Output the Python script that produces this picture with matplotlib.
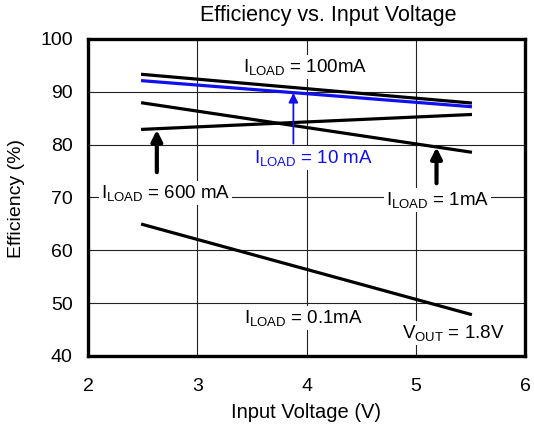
import matplotlib
matplotlib.use("Agg")
import matplotlib.pyplot as plt

plt.rcParams['font.family'] = ['Liberation Sans', 'DejaVu Sans']
plt.rcParams['mathtext.fontset'] = 'custom'
plt.rcParams['mathtext.rm'] = 'Liberation Sans'
plt.rcParams['mathtext.it'] = 'Liberation Sans'

# Data
vin = [2.5, 5.5]
eff_100mA = [93.3, 87.9]
eff_10mA = [92.1, 87.2]
eff_1mA = [87.9, 78.6]
eff_600mA = [82.9, 85.7]
eff_01mA = [64.9, 47.9]

xticks = [2, 3, 4, 5, 6]
yticks = [40, 50, 60, 70, 80, 90, 100]

fig = plt.figure(figsize=(5.34, 4.28), dpi=100)
ax = fig.add_axes([88/534, 72/428, 437/534, 317/428])

ax.set_xlim(2, 6)
ax.set_ylim(40, 100)
ax.set_xticks(xticks)
ax.set_yticks(yticks)
ax.tick_params(axis='both', length=0, labelsize=14)
ax.tick_params(axis='x', pad=16)
ax.tick_params(axis='y', pad=11)
ax.grid(True, color='#222222', linewidth=0.8, zorder=0)
for s in ax.spines.values():
    s.set_linewidth(2.4)
    s.set_zorder(10)

lw = 2.3
ax.plot(vin, eff_100mA, color='black', lw=lw, zorder=3)
ax.plot(vin, eff_10mA, color='#1010f0', lw=lw, zorder=4)
ax.plot(vin, eff_1mA, color='black', lw=lw, zorder=3)
ax.plot(vin, eff_600mA, color='black', lw=lw, zorder=3)
ax.plot(vin, eff_01mA, color='black', lw=lw, zorder=3)

# arrows
ax.annotate('', xy=(2.63, 82.8), xytext=(2.63, 74.8),
            arrowprops=dict(arrowstyle='-|>', lw=3, color='black', mutation_scale=16,
                            shrinkA=0, shrinkB=0), zorder=5)
ax.annotate('', xy=(5.19, 79.5), xytext=(5.19, 72.7),
            arrowprops=dict(arrowstyle='-|>', lw=3, color='black', mutation_scale=16,
                            shrinkA=0, shrinkB=0), zorder=5)
ax.annotate('', xy=(3.88, 89.8), xytext=(3.88, 80.2),
            arrowprops=dict(arrowstyle='-|>', lw=1.3, color='#1010f0', mutation_scale=14,
                            shrinkA=0, shrinkB=0), zorder=5)

box = dict(facecolor='white', edgecolor='none', pad=1.5)
fs = 13.5
ax.text(3.99, 94.7, r'$I_{LOAD}$ = 100mA', ha='center', va='center', fontsize=fs, bbox=box, zorder=6)
ax.text(4.06, 77.5, r'$I_{LOAD}$ = 10 mA', ha='center', va='center', fontsize=fs, color='#1010f0', bbox=box, zorder=6)
ax.text(2.71, 70.9, r'$I_{LOAD}$ = 600 mA', ha='center', va='center', fontsize=fs, bbox=box, zorder=6)
ax.text(5.2, 69.5, r'$I_{LOAD}$ = 1mA', ha='center', va='center', fontsize=fs, bbox=box, zorder=6)
ax.text(3.97, 47.2, r'$I_{LOAD}$ = 0.1mA', ha='center', va='center', fontsize=fs, bbox=box, zorder=6)
ax.text(5.34, 44.4, r'$V_{OUT}$ = 1.8V', ha='center', va='center', fontsize=fs, bbox=box, zorder=6)

fig.text(328/534, 1 - 15/428, 'Efficiency vs. Input Voltage', ha='center', va='center', fontsize=15.5)
fig.text(306/534, 1 - 413/428, 'Input Voltage (V)', ha='center', va='center', fontsize=14.5)
fig.text(17/534, 1 - 199/428, 'Efficiency (%)', ha='center', va='center', fontsize=14, rotation=90)

fig.savefig('out.png', dpi=100)
